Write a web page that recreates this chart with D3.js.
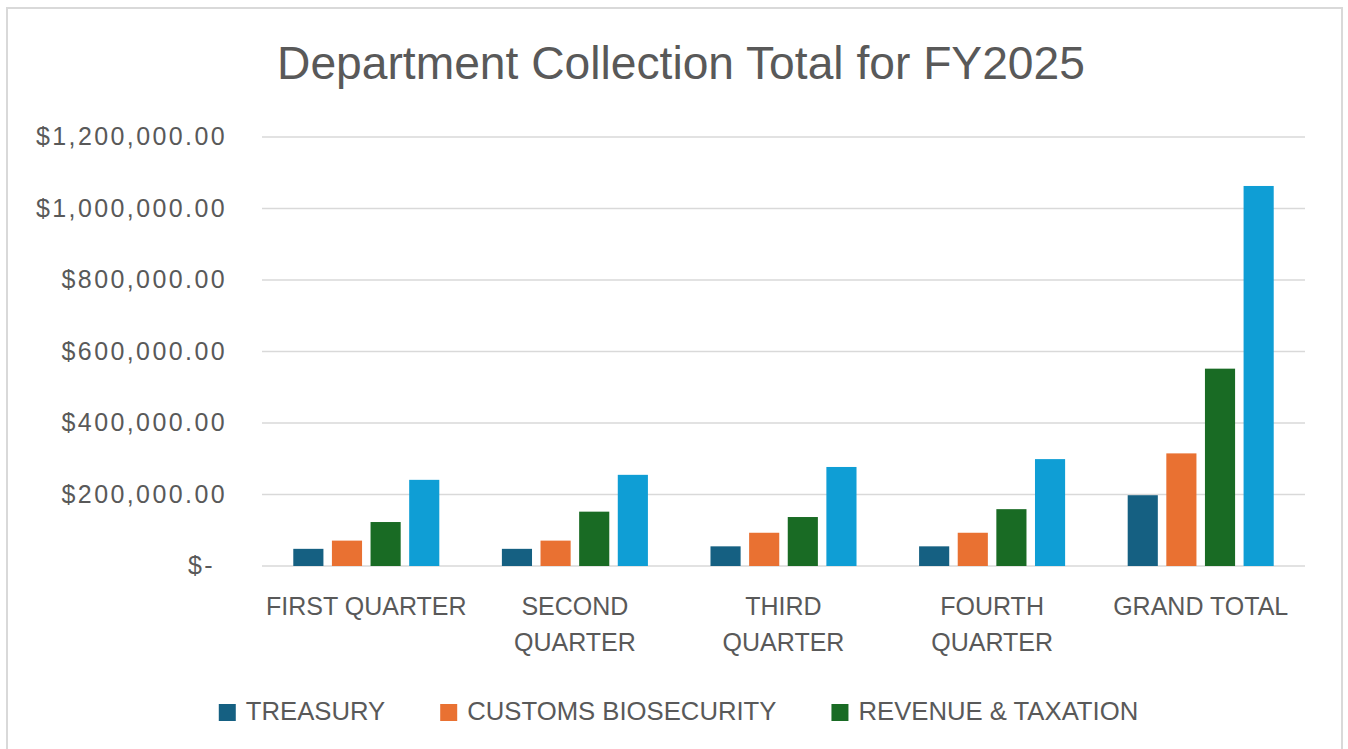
<!DOCTYPE html>
<html>
<head>
<meta charset="utf-8">
<script src="https://cdn.jsdelivr.net/npm/d3@7"></script>
<style>
  body { margin: 0; background: #fff; }
  svg { display: block; font-family: "Liberation Sans", Arial, sans-serif; }
</style>
</head>
<body>
<div id="chart"></div>
<script>
// Dades llegides del gràfic
const categories = ["FIRST QUARTER", "SECOND QUARTER", "THIRD QUARTER", "FOURTH QUARTER", "GRAND TOTAL"];
const seriesNames = ["TREASURY", "CUSTOMS BIOSECURITY", "REVENUE & TAXATION", "TOTAL"];
const treasury = [48000, 48000, 55000, 55000, 198000];
const customs = [71000, 71000, 93000, 93000, 315000];
const revenue = [123000, 152000, 137000, 159000, 552000];
const total = [241000, 255000, 277000, 299000, 1063000];
const legendNames = ["TREASURY", "CUSTOMS BIOSECURITY", "REVENUE & TAXATION"];
const yTicks = [0, 200000, 400000, 600000, 800000, 1000000, 1200000];

const seriesValues = [treasury, customs, revenue, total];
const colors = ["#156082", "#E97132", "#196B24", "#0F9ED5"];
const textColor = "#595959";

const W = 1348, H = 749;
const margin = { top: 137, right: 43, bottom: 183, left: 262 };

const svg = d3.select("#chart")
    .append("svg")
        .attr("width", W)
        .attr("height", H);

// Marc de l'àrea del gràfic
svg.append("rect")
    .attr("x", 7).attr("y", 8)
    .attr("width", 1335).attr("height", 760)
    .attr("fill", "#fff")
    .attr("stroke", "#D9D9D9")
    .attr("stroke-width", 2);

// Títol
svg.append("text")
    .attr("x", 681)
    .attr("y", 79)
    .attr("text-anchor", "middle")
    .style("font-size", "46.2px")
    .style("fill", textColor)
    .text("Department Collection Total for FY2025");

// Escales
const y = d3.scaleLinear()
    .domain([0, 1200000])
    .range([H - margin.bottom, margin.top]);

const x0 = d3.scaleBand()
    .domain(categories)
    .range([margin.left, W - margin.right])
    .paddingInner(0.3)
    .paddingOuter(0.15);

const x1 = d3.scaleBand()
    .domain(seriesNames)
    .range([0, x0.bandwidth()])
    .paddingInner(0.22);

// Línies de la graella
svg.append("g")
    .selectAll("line")
    .data(yTicks)
    .enter()
    .append("line")
        .attr("x1", margin.left)
        .attr("x2", W - margin.right)
        .attr("y1", d => y(d))
        .attr("y2", d => y(d))
        .attr("stroke", "#D9D9D9")
        .attr("stroke-width", 1.5);

// Eix Y
const yAxis = svg.append("g")
    .attr("transform", `translate(${margin.left - 35}, 0)`)
    .call(d3.axisLeft(y)
        .tickValues(yTicks)
        .tickSize(0)
        .tickPadding(0)
        .tickFormat(d => d === 0 ? "$-" : "$" + d3.format(",.2f")(d)));
yAxis.select(".domain").remove();
yAxis.selectAll("text")
    .style("font-size", "25px")
    .style("letter-spacing", "2.4px")
    .style("fill", textColor)
    .attr("font-family", null)
    .attr("dy", "0.3em")
    .attr("x", d => d === 0 ? -12 : 0);

// Barres
const groups = svg.append("g")
    .selectAll("g")
    .data(categories)
    .enter()
    .append("g")
        .attr("transform", d => `translate(${x0(d)}, 0)`);

groups.selectAll("rect")
    .data((c, i) => seriesNames.map((s, j) => ({ serie: s, value: seriesValues[j][i], color: colors[j] })))
    .enter()
    .append("rect")
        .attr("x", d => x1(d.serie))
        .attr("y", d => y(d.value))
        .attr("width", x1.bandwidth())
        .attr("height", d => y(0) - y(d.value))
        .attr("fill", d => d.color);

// Etiquetes de categoria (amb salt de línia)
const catLabels = svg.append("g")
    .selectAll("text")
    .data(categories)
    .enter()
    .append("text")
        .attr("text-anchor", "middle")
        .attr("x", d => x0(d) + x0.bandwidth() / 2)
        .attr("y", 615)
        .style("font-size", "25px")
        .style("fill", textColor)
        .text(d => d);

catLabels.each(function(d) {
    const t = d3.select(this);
    if (this.getComputedTextLength() > x0.step() - 6) {
        const words = d.split(" ");
        t.text(null);
        words.forEach((w, k) => {
            t.append("tspan")
                .attr("x", x0(d) + x0.bandwidth() / 2)
                .attr("dy", k === 0 ? 0 : 36)
                .text(w);
        });
    }
});

// Llegenda
const legend = svg.append("g");
let lx = 0;
legendNames.forEach((name, i) => {
    const item = legend.append("g").attr("transform", `translate(${lx}, 0)`);
    item.append("rect")
        .attr("x", 0).attr("y", 704)
        .attr("width", 17).attr("height", 17)
        .attr("fill", colors[i]);
    const t = item.append("text")
        .attr("x", 27).attr("y", 720)
        .style("font-size", "25.7px")
        .style("fill", textColor)
        .text(name);
    lx += 27 + t.node().getComputedTextLength() + 55;
});
const legendWidth = lx - 55;
legend.attr("transform", `translate(${(7 + 1342) / 2 - legendWidth / 2 + 4}, 0)`);
</script>
</body>
</html>
